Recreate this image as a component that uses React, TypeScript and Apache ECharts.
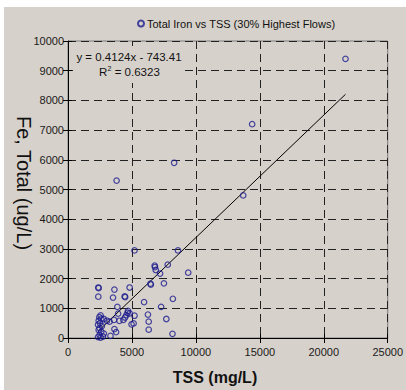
import React, { useEffect, useRef } from "react";
import * as echarts from "echarts";

const seriesName = "Total Iron vs TSS (30% Highest Flows)";
const tss: number[] = [
  21700, 14400, 8300, 3800, 13700, 5200, 8600, 7800, 6780, 6800, 6860, 9400, 7200, 6450, 6480, 7500,
  8200, 5950, 7280, 6250, 7690, 6310, 6310, 8170,
  2370, 2400, 2370, 3630, 3520, 4820, 4430, 4470, 3860, 4690, 4660, 4820, 3920, 4560, 5200, 4460,
  4330, 4020, 3600, 3250, 3050, 2800, 2550, 2450, 2600, 2400, 2500, 2350, 5130, 4970, 3630, 3760,
  3320, 2470, 2400, 2600, 2470, 2350, 2730, 2550, 2800, 2650,
];
const iron: number[] = [
  9400, 7200, 5900, 5300, 4800, 2950, 2950, 2470, 2440, 2390, 2290, 2200, 2170, 1830, 1800, 1840,
  1320, 1210, 1050, 790, 640, 550, 280, 140,
  1700, 1680, 1390, 1630, 1360, 1700, 1400, 1380, 1050, 910, 850, 830, 820, 770, 750, 690,
  610, 580, 610, 550, 580, 640, 760, 700, 650, 580, 500, 450, 490, 460, 300, 200,
  70, 330, 270, 210, 100, 30, 50, 10, 150, 400,
];
const slope = 0.4124;
const intercept = -743.41;
const trendX: number[] = [2350, 21700];
const xTicks = { min: 0, max: 25000, interval: 5000 };
const yTicks = { min: 0, max: 10000, interval: 1000 };

const BG = "#d7d1cb";
const FONT = "'Liberation Sans', Arial, sans-serif";

export default function App() {
  const ref = useRef<HTMLDivElement>(null);
  useEffect(() => {
    document.body.style.margin = "0";
    if (!ref.current) return;
    const chart = echarts.init(ref.current, undefined, { renderer: "svg" });
    const points = tss.map((x, i) => [x, iron[i]]);
    const trend = trendX.map((x) => [x, slope * x + intercept]);
    const labelStyle = {
      fontSize: 11,
      fontFamily: FONT,
      color: "#1a1a1a",
      formatter: (v: number) => String(v),
    };
    chart.setOption({
      animation: false,
      backgroundColor: "transparent",
      grid: {
        left: 68,
        right: 15,
        top: 41,
        bottom: 52,
        show: true,
        borderColor: "#7a7a7a",
        borderWidth: 1,
        backgroundColor: "transparent",
      },
      legend: {
        data: [{ name: seriesName }],
        top: 13,
        left: 132,
        itemWidth: 6,
        itemHeight: 6,
        itemGap: 4,
        textStyle: { fontSize: 11, fontFamily: FONT, color: "#111", padding: [0, 0, 0, -2] },
      },
      xAxis: [
        {
          type: "value",
          ...xTicks,
          axisLine: { show: true, lineStyle: { color: "#000", width: 1 } },
          axisTick: { show: true, length: 5, lineStyle: { color: "#000" } },
          axisLabel: { ...labelStyle, margin: 8 },
          splitLine: { show: true, lineStyle: { color: "#222", type: [8, 5], width: 1 } },
        },
        {
          type: "value",
          ...xTicks,
          position: "bottom",
          axisLine: { show: false },
          axisTick: { show: true, inside: true, length: 4, lineStyle: { color: "#000" } },
          axisLabel: { show: false },
          splitLine: { show: false },
        },
      ],
      yAxis: [
        {
          type: "value",
          ...yTicks,
          axisLine: { show: true, lineStyle: { color: "#000", width: 1 } },
          axisTick: { show: true, length: 5, lineStyle: { color: "#000" } },
          axisLabel: { ...labelStyle, margin: 4 },
          splitLine: { show: true, lineStyle: { color: "#222", type: [8, 5], width: 1 } },
        },
        {
          type: "value",
          ...yTicks,
          position: "left",
          axisLine: { show: false },
          axisTick: { show: true, inside: true, length: 4, lineStyle: { color: "#000" } },
          axisLabel: { show: false },
          splitLine: { show: false },
        },
      ],
      series: [
        {
          name: seriesName,
          type: "scatter",
          data: points,
          symbol: "circle",
          symbolSize: 5.5,
          itemStyle: { color: "transparent", borderColor: "#1b1b8f", borderWidth: 1.2 },
          z: 5,
        },
        {
          name: "trend",
          type: "line",
          data: trend,
          symbol: "none",
          lineStyle: { color: "#000", width: 1 },
          z: 4,
        },
      ],
      graphic: [
        {
          type: "rect",
          shape: { x: 73, y: 46, width: 111, height: 37 },
          style: { fill: BG },
          z: 10,
        },
        {
          type: "text",
          x: 129,
          y: 57,
          z: 11,
          style: {
            text: "y = 0.4124x - 743.41",
            font: `11.5px ${FONT}`,
            fill: "#111",
            textAlign: "center",
            textVerticalAlign: "middle",
          },
        },
        {
          type: "text",
          x: 99,
          y: 72,
          z: 11,
          style: { text: "R", font: `11.5px ${FONT}`, fill: "#111", textAlign: "left", textVerticalAlign: "middle" },
        },
        {
          type: "text",
          x: 107.5,
          y: 68,
          z: 11,
          style: { text: "2", font: `7px ${FONT}`, fill: "#111", textAlign: "left", textVerticalAlign: "middle" },
        },
        {
          type: "text",
          x: 111.5,
          y: 72,
          z: 11,
          style: { text: " = 0.6323", font: `11.5px ${FONT}`, fill: "#111", textAlign: "left", textVerticalAlign: "middle" },
        },
        {
          type: "text",
          x: 24,
          y: 183,
          rotation: -Math.PI / 2,
          z: 11,
          style: {
            text: "Fe, Total (ug/L)",
            font: `20px ${FONT}`,
            fill: "#111",
            textAlign: "center",
            textVerticalAlign: "middle",
          },
        },
        {
          type: "text",
          x: 215,
          y: 377,
          z: 11,
          style: {
            text: "TSS (mg/L)",
            font: `bold 16px ${FONT}`,
            fill: "#111",
            textAlign: "center",
            textVerticalAlign: "middle",
          },
        },
      ],
    });
    return () => chart.dispose();
  }, []);
  return (
    <div style={{ position: "relative", width: 406, height: 390, background: "#fff", overflow: "hidden" }}>
      <div style={{ position: "absolute", left: 4, top: 7, right: 0, bottom: 0, background: BG }} />
      <div ref={ref} style={{ position: "absolute", left: 0, top: 0, width: 406, height: 390 }} />
    </div>
  );
}
